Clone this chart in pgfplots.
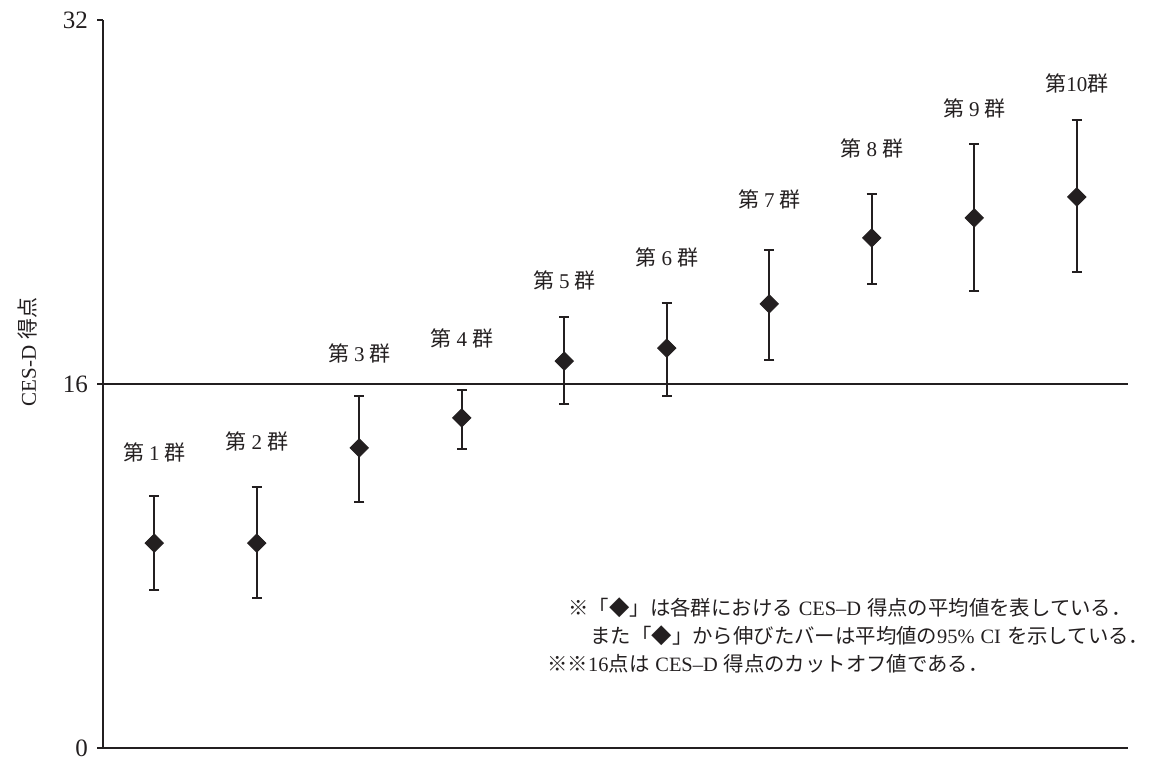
\documentclass[border=0pt]{standalone}
\usepackage{fontspec}
\setmainfont{Liberation Serif}
\newfontfamily\cjk{Noto Sans CJK JP}
\usepackage{pgfplots}
\usepackage{pgfplotstable}
\pgfplotsset{compat=1.18}
\definecolor{ink}{HTML}{231F20}
\pgfplotstableread{
x y ep em
1 9.01 2.07 2.06
2 9.01 2.46 2.42
3 13.19 2.28 2.38
4 14.51 1.23 1.37
5 17.01 1.94 1.89
6 17.58 1.98 2.11
7 19.52 2.37 2.47
8 22.42 1.93 2.02
9 23.30 3.25 3.21
10 24.22 3.38 3.30
}\groups
\newcommand{\gl}[1]{{\cjk 第}\hspace{2.5pt}#1\hspace{2.5pt}{\cjk 群}}
\begin{document}
\begin{tikzpicture}[x=1pt,y=1pt]
\path[use as bounding box] (0,0) rectangle (575,380);
\begin{axis}[
 at={(51.5pt,6pt)}, anchor=south west,
 scale only axis, width=512.5pt, height=364pt,
 xmin=0.5, xmax=10.5, ymin=0, ymax=32,
 axis x line*=bottom, axis y line*=left,
 axis line style={ink, line width=1pt},
 xtick=\empty, ytick={0,16,32},
 tick align=outside, major tick length=3pt,
 y tick style={ink, line width=0.8pt},
 yticklabel style={font=\fontsize{12.5}{14}\selectfont, text=ink, xshift=-1pt},
 /pgf/number format/assume math mode=true,
 clip=false,
]
\addplot[ink, line width=1pt, forget plot] coordinates {(0.5,16) (10.5,16)};
\addplot[only marks, color=ink, mark=square*, mark size=3.2pt,
 mark options={rotate=45, fill=ink, draw=ink, line width=0.5pt},
 error bars/.cd, y dir=both, y explicit,
 error bar style={line width=1pt, ink},
 error mark options={mark size=2.6pt, line width=1pt, ink, rotate=90}]
 table[x=x, y=y, y error plus=ep, y error minus=em]{\groups};
\begin{scope}[every node/.style={font=\fontsize{10.5}{12}\selectfont, text=ink}]
\node at (axis cs:1,13.01) {\gl{1}};
\node at (axis cs:2,13.49) {\gl{2}};
\node at (axis cs:3,17.36) {\gl{3}};
\node at (axis cs:4,18.02) {\gl{4}};
\node at (axis cs:5,20.57) {\gl{5}};
\node at (axis cs:6,21.58) {\gl{6}};
\node at (axis cs:7,24.09) {\gl{7}};
\node at (axis cs:8,26.37) {\gl{8}};
\node at (axis cs:9,28.13) {\gl{9}};
\node at (axis cs:10,29.19) {{\cjk 第}10{\cjk 群}};
\end{scope}
\end{axis}
\begin{scope}[every node/.style={font=\fontsize{10.2}{12}\selectfont, text=ink, inner sep=0pt}]
\node[rotate=90, font=\fontsize{10.5}{12}\selectfont] at (14,204) {CES-D\hspace{3pt}{\cjk 得点}};
\node[anchor=west] at (284,76) {{\cjk ※「◆」は各群における}\hspace{3pt}CES--D\hspace{3pt}{\cjk 得点の平均値を表している．}};
\node[anchor=west] at (295,62) {{\cjk また「◆」から伸びたバーは平均値の}95\%\hspace{3pt}CI\hspace{3pt}{\cjk を示している．}};
\node[anchor=west] at (273.5,48) {{\cjk ※※}16{\cjk 点は}\hspace{3pt}CES--D\hspace{3pt}{\cjk 得点のカットオフ値である．}};
\end{scope}
\end{tikzpicture}
\end{document}
